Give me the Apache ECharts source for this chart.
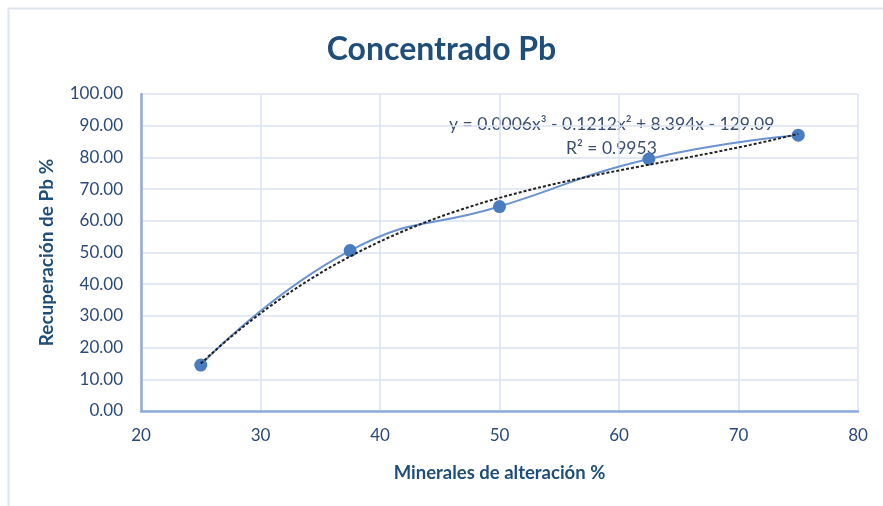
<!DOCTYPE html>
<html>
<head>
<meta charset="utf-8">
<script src="https://cdn.jsdelivr.net/npm/echarts@6/dist/echarts.min.js"></script>
<style>
  html, body { margin: 0; padding: 0; background: #ffffff; }
  #chart { width: 883px; height: 506px; }
</style>
</head>
<body>
<div id="chart"></div>
<script>
// Alteration minerals (%) and Pb recovery (%)
const mineralesAlteracion = [25, 37.5, 50, 62.5, 75];
const recuperacionPb = [14.5, 50.6, 64.5, 79.5, 87.0];
const xTicks = [20, 30, 40, 50, 60, 70, 80];
const yTicks = [0, 10, 20, 30, 40, 50, 60, 70, 80, 90, 100];
const ecuacion = 'y = 0.0006x³ - 0.1212x² + 8.394x - 129.09';
const r2Texto = 'R² = 0.9953';

// Least-squares polynomial fit (order 3) for the trendline
function polyFit(xs, ys, order) {
  const n = order + 1;
  const A = [];
  for (let i = 0; i < n; i++) {
    const row = [];
    for (let j = 0; j < n; j++) {
      let s = 0;
      for (let k = 0; k < xs.length; k++) s += Math.pow(xs[k], i + j);
      row.push(s);
    }
    let b = 0;
    for (let k = 0; k < xs.length; k++) b += ys[k] * Math.pow(xs[k], i);
    row.push(b);
    A.push(row);
  }
  for (let c = 0; c < n; c++) {
    let p = c;
    for (let r = c + 1; r < n; r++) if (Math.abs(A[r][c]) > Math.abs(A[p][c])) p = r;
    [A[c], A[p]] = [A[p], A[c]];
    for (let r = 0; r < n; r++) {
      if (r === c) continue;
      const f = A[r][c] / A[c][c];
      for (let j = c; j <= n; j++) A[r][j] -= f * A[c][j];
    }
  }
  return A.map((row, i) => row[n] / row[i]);
}
const coef = polyFit(mineralesAlteracion, recuperacionPb, 3);
const evalPoly = x => coef.reduce((s, c, i) => s + c * Math.pow(x, i), 0);
const trendData = [];
const x0 = mineralesAlteracion[0], x1 = mineralesAlteracion[mineralesAlteracion.length - 1];
for (let i = 0; i <= 100; i++) {
  const x = x0 + (x1 - x0) * i / 100;
  trendData.push([x, evalPoly(x)]);
}

const font = 'Lato, "Open Sans", sans-serif';
const labelColor = '#2a4a7a';
const chart = echarts.init(document.getElementById('chart'));
chart.setOption({
  animation: false,
  backgroundColor: '#ffffff',
  title: {
    text: 'Concentrado Pb',
    left: 'center',
    top: 29,
    textStyle: { fontFamily: font, fontSize: 32, fontWeight: 'bold', color: '#1f4e79' }
  },
  grid: { left: 141, right: 25, top: 94, bottom: 95 },
  xAxis: {
    type: 'value',
    min: xTicks[0],
    max: xTicks[xTicks.length - 1],
    interval: 10,
    name: 'Minerales de alteración %',
    nameLocation: 'middle',
    nameGap: 53,
    nameTextStyle: { fontFamily: font, fontSize: 18.5, fontWeight: 'bold', color: '#1f4e79' },
    axisLine: { show: true, onZero: false, lineStyle: { color: '#8faadc', width: 2.5 } },
    axisTick: { show: false },
    axisLabel: { fontFamily: font, fontSize: 17, color: labelColor, margin: 16 },
    splitLine: { show: true, lineStyle: { color: '#dae3f3', width: 1.5 } }
  },
  yAxis: {
    type: 'value',
    min: yTicks[0],
    max: yTicks[yTicks.length - 1],
    interval: 10,
    name: 'Recuperación de Pb %',
    nameLocation: 'middle',
    nameGap: 85,
    nameTextStyle: { fontFamily: font, fontSize: 19, fontWeight: 'bold', color: '#1f4e79' },
    axisLine: { show: true, lineStyle: { color: '#8faadc', width: 2.5 } },
    axisTick: { show: false },
    axisLabel: { fontFamily: font, fontSize: 17, color: labelColor, margin: 18, formatter: v => v.toFixed(2) },
    splitLine: { show: true, lineStyle: { color: '#dae3f3', width: 1.5 } }
  },
  graphic: [
    {
      type: 'rect',
      left: 6, top: 6,
      shape: { width: 890, height: 510 },
      style: { fill: 'none', stroke: '#dde4ee', lineWidth: 2 },
      silent: true
    },
    {
      type: 'text',
      left: 449, top: 115,
      style: { text: ecuacion, fontFamily: font, fontSize: 17.5, fill: '#3b4f70' }
    },
    {
      type: 'text',
      left: 566, top: 139,
      style: { text: r2Texto, fontFamily: font, fontSize: 17.5, fill: '#3b4f70' }
    }
  ],
  series: [
    {
      type: 'line',
      data: mineralesAlteracion.map((x, i) => [x, recuperacionPb[i]]),
      smooth: 0.5,
      symbol: 'circle',
      symbolSize: 13,
      lineStyle: { color: '#6a93cf', width: 2 },
      itemStyle: { color: '#4a7dc0' },
      z: 3
    },
    {
      type: 'line',
      data: trendData,
      showSymbol: false,
      symbol: 'none',
      lineStyle: { color: '#222222', width: 2, type: [3, 2] },
      z: 4
    }
  ]
});
</script>
</body>
</html>
